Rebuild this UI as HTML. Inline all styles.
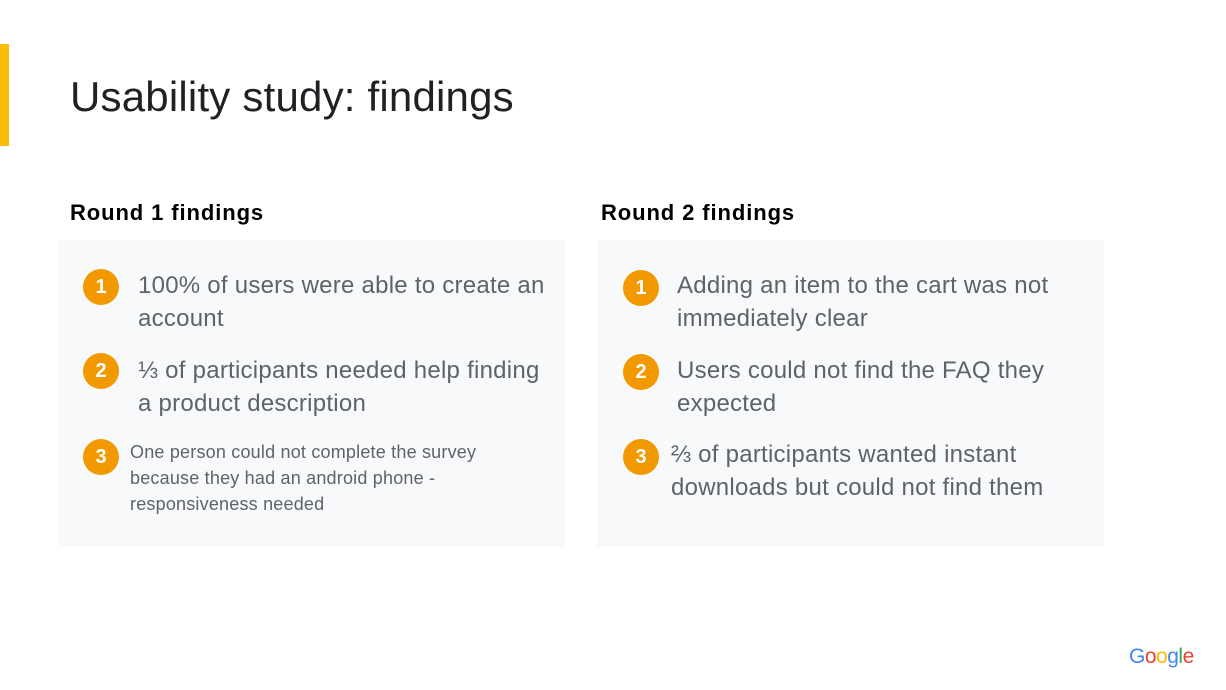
<!DOCTYPE html>
<html><head><meta charset="utf-8"><style>
body{margin:0;width:1226px;height:690px;background:#fff;position:relative;overflow:hidden;font-family:"Liberation Sans",sans-serif}
.a{position:absolute}
.panel{position:absolute;background:#f8f9fa;top:240px;width:507px;height:307px}
.h{position:absolute;top:200px;font-size:22px;font-weight:bold;color:#000;letter-spacing:0.9px}
.c{position:absolute;width:36px;height:36px;border-radius:50%;background:#f29900;color:#fff;font-weight:bold;font-size:20px;line-height:36px;text-align:center}
.t{position:absolute;color:#5f6368;font-size:24px;line-height:33px;white-space:nowrap;letter-spacing:0.25px}
.s{position:absolute;color:#5f6368;font-size:18px;line-height:26px;white-space:nowrap;letter-spacing:0.2px}
</style></head><body>
<div class="a" style="left:0;top:44px;width:9px;height:102px;background:#fbbc04"></div>
<div class="a" style="left:70px;top:73px;font-size:42px;color:#202124;letter-spacing:0.2px">Usability study: findings</div>
<div class="h" style="left:70px">Round 1 findings</div>
<div class="h" style="left:601px">Round 2 findings</div>
<div class="panel" style="left:58px"></div>
<div class="panel" style="left:597px"></div>

<div class="c" style="left:83px;top:269px">1</div>
<div class="t" style="left:138px;top:269px">100% of users were able to create an<br>account</div>
<div class="c" style="left:83px;top:353px">2</div>
<div class="t" style="left:138px;top:354px">⅓ of participants needed help finding<br>a product description</div>
<div class="c" style="left:83px;top:439px">3</div>
<div class="s" style="left:130px;top:439px">One person could not complete the survey<br>because they had an android phone -<br>responsiveness needed</div>

<div class="c" style="left:623px;top:270px">1</div>
<div class="t" style="left:677px;top:269px">Adding an item to the cart was not<br>immediately clear</div>
<div class="c" style="left:623px;top:354px">2</div>
<div class="t" style="left:677px;top:354px">Users could not find the FAQ they<br>expected</div>
<div class="c" style="left:623px;top:439px">3</div>
<div class="t" style="left:671px;top:438px">⅔ of participants wanted instant<br>downloads but could not find them</div>

<div class="a" style="left:1129px;top:645px;font-size:21px;letter-spacing:-0.5px"><span style="color:#4285f4">G</span><span style="color:#ea4335">o</span><span style="color:#fbbc05">o</span><span style="color:#4285f4">g</span><span style="color:#34a853">l</span><span style="color:#ea4335">e</span></div>
</body></html>
